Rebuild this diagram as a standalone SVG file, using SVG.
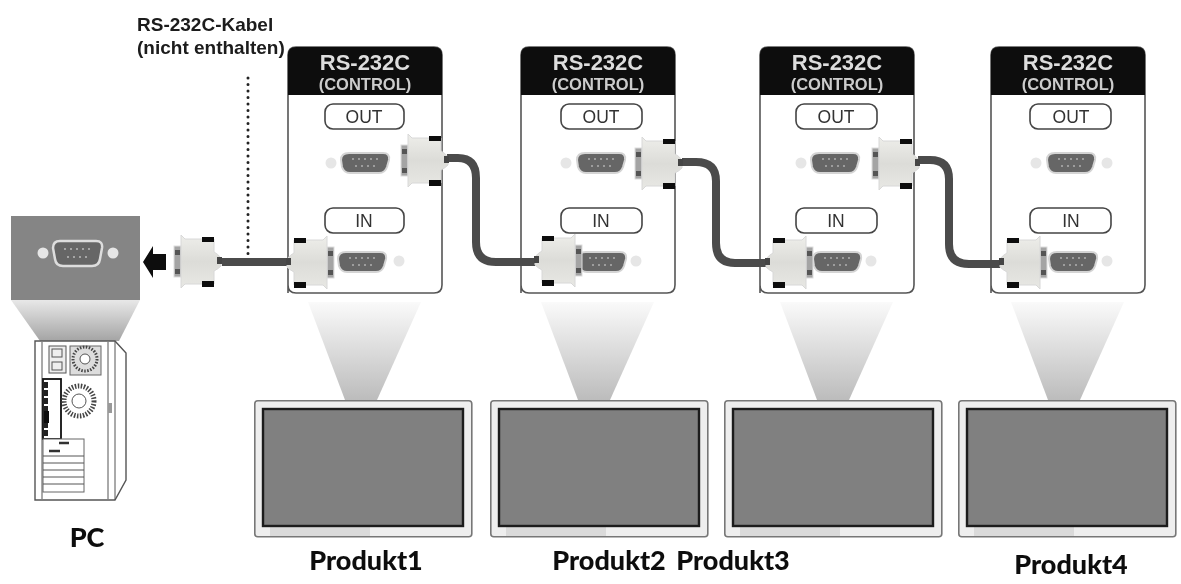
<svg xmlns="http://www.w3.org/2000/svg" xmlns:xlink="http://www.w3.org/1999/xlink" width="1181" height="584" viewBox="0 0 1181 584">
<style>
.sans{font-family:"Liberation Sans",Arial,sans-serif;font-weight:700}
.name{font-family:"Lato","Open Sans",sans-serif;font-weight:900;font-size:27px;fill:#111;text-anchor:middle}
.hd1{font-size:22px;fill:#ddd;text-anchor:middle}
.hd2{font-size:16.5px;fill:#ccc;text-anchor:middle}
.lb{font-family:"Liberation Sans",Arial,sans-serif;font-size:17.5px;fill:#333;text-anchor:middle}
.box{fill:#fff;stroke:#444;stroke-width:1.6}
.cable{fill:none;stroke:#4c4c4c;stroke-width:8}
.ln{fill:none;stroke:#555;stroke-width:1}
</style>
<defs>
<filter id="soft" x="0" y="0" width="100%" height="100%"><feGaussianBlur stdDeviation="0.5"/></filter>
<linearGradient id="beam" x1="0" y1="0" x2="0" y2="1"><stop offset="0" stop-color="#fafafa"/><stop offset="1" stop-color="#bcbcbc"/></linearGradient>
<linearGradient id="beam2" x1="0" y1="0" x2="0" y2="1"><stop offset="0" stop-color="#e8e8e8"/><stop offset="1" stop-color="#a4a4a4"/></linearGradient>
<linearGradient id="body" x1="0" y1="0" x2="0" y2="1"><stop offset="0" stop-color="#eeeeea"/><stop offset="0.5" stop-color="#dcdcd8"/><stop offset="1" stop-color="#e8e8e4"/></linearGradient>
<g id="panel">
<path d="M0,246 V8 Q0,0 8,0 H146 Q154,0 154,8 V238 Q154,246 146,246 H8 Q0,246 0,238 Z" fill="#fff" stroke="#555" stroke-width="1.6"/>
<path d="M0,48 V8 Q0,0 8,0 H146 Q154,0 154,8 V48 Z" fill="#0c0c0c"/>
<text x="77" y="23" class="sans hd1">RS-232C</text>
<text x="77" y="43" class="sans hd2">(CONTROL)</text>
</g>
<g id="port">
<path d="M-24,-3 Q-24,-10 -16,-10 H18 Q25,-10 24,-3 L22,4 Q20,10 14,10 H-15 Q-21,10 -23,4 Z" fill="#666" stroke="#d4d4d4" stroke-width="2"/>
<g fill="#b0b0b0"><circle cx="-12" cy="-4" r="1"/><circle cx="-6" cy="-4" r="1"/><circle cx="0" cy="-4" r="1"/><circle cx="6" cy="-4" r="1"/><circle cx="12" cy="-4" r="1"/><circle cx="-9" cy="3" r="1"/><circle cx="-3" cy="3" r="1"/><circle cx="3" cy="3" r="1"/><circle cx="9" cy="3" r="1"/></g>
</g>
<g id="conn">
<rect x="-23" y="-15" width="7" height="31" fill="#a4a4a4" stroke="#ddd"/>
<rect x="-22" y="-11" width="5" height="5" fill="#555"/><rect x="-22" y="8" width="5" height="5" fill="#555"/>
<path d="M-16,-26 L-12,-22 H17 V-9 Q21,-7 24,-3 V5 Q21,8 17,10 V23 H-12 L-16,27 Z" fill="url(#body)" stroke="#d8d8d8"/>
<rect x="5" y="-24" width="12" height="5" fill="#111"/><rect x="5" y="20" width="12" height="6" fill="#111"/>
<rect x="20" y="-4" width="5" height="7" fill="#444"/>
</g>
<g id="monitor">
<rect x="0.8" y="0.8" width="217" height="136" rx="3" fill="#eeeeee" stroke="#777" stroke-width="1.6"/>
<rect x="16" y="126" width="100" height="10" fill="#dadada"/>
<rect x="9" y="9" width="200" height="117" fill="#808080" stroke="#1c1c1c" stroke-width="2.4"/>
</g>
<path id="beamS" d="M20,0 H133 L89,98 H57 Z" fill="url(#beam)"/>
<circle id="dim" r="5.5" fill="#e6e6e6"/>
</defs>
<g filter="url(#soft)">
<rect width="1181" height="584" fill="#fff"/>
<g id="cable-note"><text x="137" y="31" class="sans" font-size="19" fill="#1a1a1a">RS-232C-Kabel</text>
<text x="137" y="54" class="sans" font-size="19" fill="#1a1a1a">(nicht enthalten)</text></g>

<g id="beams">
<use xlink:href="#beamS" x="288" y="302"/><use xlink:href="#beamS" x="521" y="302"/><use xlink:href="#beamS" x="760" y="302"/><use xlink:href="#beamS" x="991" y="302"/>
</g>

<g id="node-panel1">
<use xlink:href="#panel" x="288" y="47"/>
<rect x="325" y="104" width="79" height="25" rx="8" class="box"/><text x="364" y="123" class="lb">OUT</text>
<rect x="325" y="208" width="79" height="25" rx="8" class="box"/><text x="364" y="227" class="lb">IN</text>
<use xlink:href="#dim" x="331" y="163"/><use xlink:href="#dim" x="399" y="261"/>
<use xlink:href="#port" x="365" y="163"/><use xlink:href="#port" x="362" y="262"/>
</g>
<g id="node-panel2">
<use xlink:href="#panel" x="521" y="47"/>
<rect x="561" y="104" width="81" height="25" rx="8" class="box"/><text x="601" y="123" class="lb">OUT</text>
<rect x="561" y="208" width="81" height="25" rx="8" class="box"/><text x="601" y="227" class="lb">IN</text>
<use xlink:href="#dim" x="566" y="163"/><use xlink:href="#dim" x="636" y="261"/>
<use xlink:href="#port" x="601" y="163"/><use xlink:href="#port" x="602" y="262"/>
</g>
<g id="node-panel3">
<use xlink:href="#panel" x="760" y="47"/>
<rect x="796" y="104" width="81" height="25" rx="8" class="box"/><text x="836" y="123" class="lb">OUT</text>
<rect x="796" y="208" width="81" height="25" rx="8" class="box"/><text x="836" y="227" class="lb">IN</text>
<use xlink:href="#dim" x="801" y="163"/><use xlink:href="#dim" x="871" y="261"/>
<use xlink:href="#port" x="835" y="163"/><use xlink:href="#port" x="837" y="262"/>
</g>
<g id="node-panel4">
<use xlink:href="#panel" x="991" y="47"/>
<rect x="1030" y="104" width="81" height="25" rx="8" class="box"/><text x="1071" y="123" class="lb">OUT</text>
<rect x="1030" y="208" width="81" height="25" rx="8" class="box"/><text x="1071" y="227" class="lb">IN</text>
<use xlink:href="#dim" x="1036" y="163"/><use xlink:href="#dim" x="1107" y="163"/><use xlink:href="#dim" x="1107" y="261"/>
<use xlink:href="#port" x="1071" y="163"/><use xlink:href="#port" x="1073" y="262"/>
</g>

<g id="connectors">
<path class="cable" d="M222,262 H290"/>
<path class="cable" d="M447,158 H458 Q476,158 476,178 V242 Q476,262 496,262 H537"/>
<path class="cable" d="M682,162 H696 Q716,162 716,181 V243 Q716,263 735,263 H770"/>
<path class="cable" d="M918,160 H930 Q949,160 949,179 V244 Q949,264 969,264 H1003"/>
<path d="M248,78 V255" fill="none" stroke="#222" stroke-width="3" stroke-linecap="round" stroke-dasharray="0 6.5"/>
<use xlink:href="#conn" x="197" y="261"/>
<use xlink:href="#conn" transform="translate(311,262) scale(-1,1)"/>
<use xlink:href="#conn" x="424" y="160"/>
<use xlink:href="#conn" transform="translate(559,260) scale(-1,1)"/>
<use xlink:href="#conn" x="658" y="163"/>
<use xlink:href="#conn" transform="translate(790,262) scale(-1,1)"/>
<use xlink:href="#conn" x="895" y="163"/>
<use xlink:href="#conn" transform="translate(1024,262) scale(-1,1)"/>
</g>

<g id="node-pc">
<rect x="11" y="216" width="129" height="84" fill="#858585"/>
<path d="M11,300 H140 L119,341 H40 Z" fill="url(#beam2)"/>
<circle cx="43" cy="253" r="5.5" fill="#e6e6e6"/><circle cx="113" cy="253" r="5.5" fill="#e6e6e6"/>
<path d="M53,248 Q53,241 60,241 H96 Q103,241 102,248 L100,259 Q99,266 92,266 H63 Q56,266 55,259 Z" fill="#666" stroke="#ddd" stroke-width="2.5"/>
<g fill="#bbb"><circle cx="65" cy="249" r="1"/><circle cx="71" cy="249" r="1"/><circle cx="77" cy="249" r="1"/><circle cx="83" cy="249" r="1"/><circle cx="89" cy="249" r="1"/><circle cx="68" cy="257" r="1"/><circle cx="74" cy="257" r="1"/><circle cx="80" cy="257" r="1"/><circle cx="86" cy="257" r="1"/></g>
<path d="M143,262 L153,246 V254 H166 V270 H153 V278 Z" fill="#0a0a0a"/>
<path d="M35,341 H115 L126,353 V480 L115,500 H35 Z" fill="#fff" stroke="#555" stroke-width="1.4"/>
<path class="ln" d="M115,341 V500 M108,342 V499 M42,342 V499"/>
<rect x="49" y="346" width="17" height="27" fill="#eee" stroke="#555"/>
<rect x="52" y="349" width="10" height="8" class="ln"/><rect x="52" y="362" width="10" height="8" class="ln"/>
<rect x="70" y="346" width="31" height="29" fill="#ddd" stroke="#666"/>
<circle cx="85" cy="359" r="12" fill="none" stroke="#444" stroke-width="3" stroke-dasharray="1.5 1.5"/><circle cx="85" cy="359" r="5" fill="#fff" stroke="#555"/>
<rect x="43" y="379" width="18" height="60" fill="#fff" stroke="#111" stroke-width="1.8"/>
<path d="M46,382 V436" stroke="#222" stroke-width="4" stroke-dasharray="6 2" fill="none"/>
<rect x="44" y="411" width="5" height="12" fill="#111"/>
<circle cx="79" cy="401" r="15" fill="none" stroke="#444" stroke-width="5" stroke-dasharray="1.5 1.5"/><circle cx="79" cy="401" r="7" fill="#fff" stroke="#555"/>
<rect x="43" y="439" width="41" height="53" fill="#fff" stroke="#666"/>
<path class="ln" d="M43,456 H84 M43,463 H84 M43,470 H84 M43,477 H84 M43,484 H84"/>
<path d="M59,443 H69 M49,451 H60" stroke="#333" stroke-width="2.5" fill="none"/>
<rect x="108" y="403" width="4" height="10" fill="#999"/>
</g>

<g id="node-monitor1"><use xlink:href="#monitor" x="254" y="400"/></g>
<g id="node-monitor2"><use xlink:href="#monitor" x="490" y="400"/></g>
<g id="node-monitor3"><use xlink:href="#monitor" x="724" y="400"/></g>
<g id="node-monitor4"><use xlink:href="#monitor" x="958" y="400"/></g>

<g id="labels">
<text x="87" y="547" class="name">PC</text>
<text x="366" y="570" class="name">Produkt1</text>
<text x="609" y="570" class="name">Produkt2</text>
<text x="733" y="570" class="name">Produkt3</text>
<text x="1071" y="574" class="name">Produkt4</text>
</g>
</g>
</svg>
